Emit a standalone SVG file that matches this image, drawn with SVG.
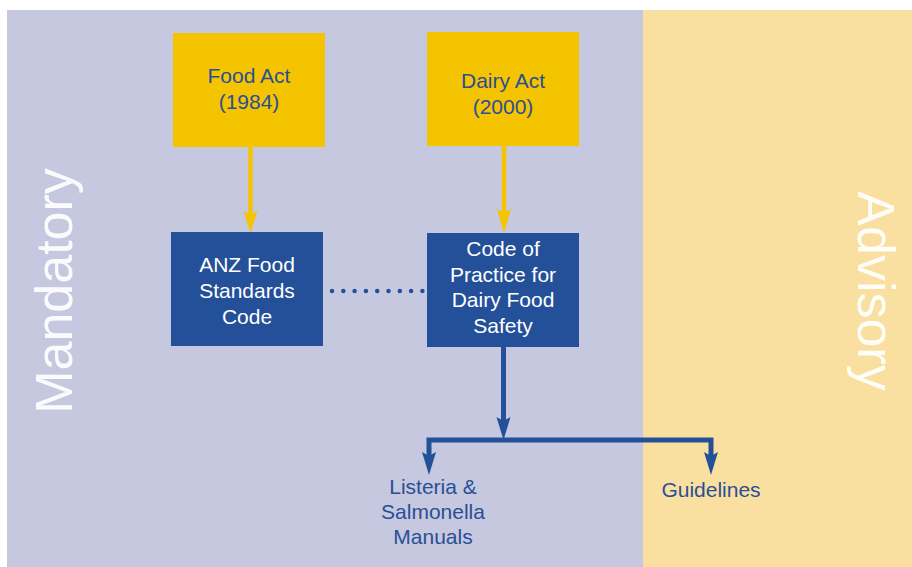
<svg xmlns="http://www.w3.org/2000/svg" width="912" height="567" viewBox="0 0 912 567">
<style>
text{font-family:"Liberation Sans",Arial,sans-serif;text-anchor:middle}
.lbl{font-size:21px;fill:#2A4F96}
.wl{font-size:21px;fill:#FFFFFF}
.side{font-size:52px;fill:#FFFFFF;fill-opacity:0.92}
.yb{fill:#F5C400}
.bb{fill:#24509A}
.ya{stroke:#F5C400;stroke-width:4.5;fill:none}
.ba{stroke:#24509A;stroke-width:5;fill:none}
.yh{fill:#F5C400}
.bh{fill:#24509A}
</style>
<rect width="912" height="567" fill="#FFFFFF"/>
<g id="zones">
<rect x="7" y="10" width="636" height="557" fill="#C5C8DF"/>
<rect x="643" y="10" width="269" height="557" fill="#FAE0A0"/>
<text class="side" transform="translate(72,291) rotate(-90)">Mandatory</text>
<text class="side" transform="translate(858,291) rotate(90)">Advisory</text>
</g>
<g id="connectors">
<line class="ya" x1="250.5" y1="147" x2="250.5" y2="222"/>
<polygon class="yh" points="243.5,211 250.5,215 257.5,211 250.5,233"/>
<line class="ya" x1="504" y1="146" x2="504" y2="222"/>
<polygon class="yh" points="497,209 504,213 511,209 504,233"/>
<line x1="332" y1="291" x2="426" y2="291" stroke="#24509A" stroke-width="4.5" stroke-linecap="round" stroke-dasharray="0 11.3"/>
<line class="ba" x1="503.5" y1="347" x2="503.5" y2="428"/>
<polygon class="bh" points="496.5,417 503.5,421 510.5,417 503.5,440"/>
<path class="ba" d="M429,462 V440 H711 V462"/>
<polygon class="bh" points="422,452 429,456 436,452 429,475"/>
<polygon class="bh" points="704,452 711,456 718,452 711,475"/>
</g>
<g id="food-act">
<rect class="yb" x="173" y="33" width="152" height="114"/>
<text class="lbl" x="249" y="83">Food Act</text>
<text class="lbl" x="249" y="109">(1984)</text>
</g>
<g id="dairy-act">
<rect class="yb" x="427" y="32" width="152" height="114"/>
<text class="lbl" x="503" y="88">Dairy Act</text>
<text class="lbl" x="503" y="114">(2000)</text>
</g>
<g id="anz-code">
<rect class="bb" x="171" y="232" width="152" height="114"/>
<text class="wl" x="247" y="272">ANZ Food</text>
<text class="wl" x="247" y="298">Standards</text>
<text class="wl" x="247" y="324">Code</text>
</g>
<g id="dairy-code">
<rect class="bb" x="427" y="233" width="152" height="114"/>
<text class="wl" x="503" y="256">Code of</text>
<text class="wl" x="503" y="282">Practice for</text>
<text class="wl" x="503" y="307">Dairy Food</text>
<text class="wl" x="503" y="333">Safety</text>
</g>
<g id="manuals">
<text class="lbl" x="433" y="494">Listeria &amp;</text>
<text class="lbl" x="433" y="519">Salmonella</text>
<text class="lbl" x="433" y="544">Manuals</text>
</g>
<g id="guidelines">
<text class="lbl" x="711" y="497">Guidelines</text>
</g>
</svg>
